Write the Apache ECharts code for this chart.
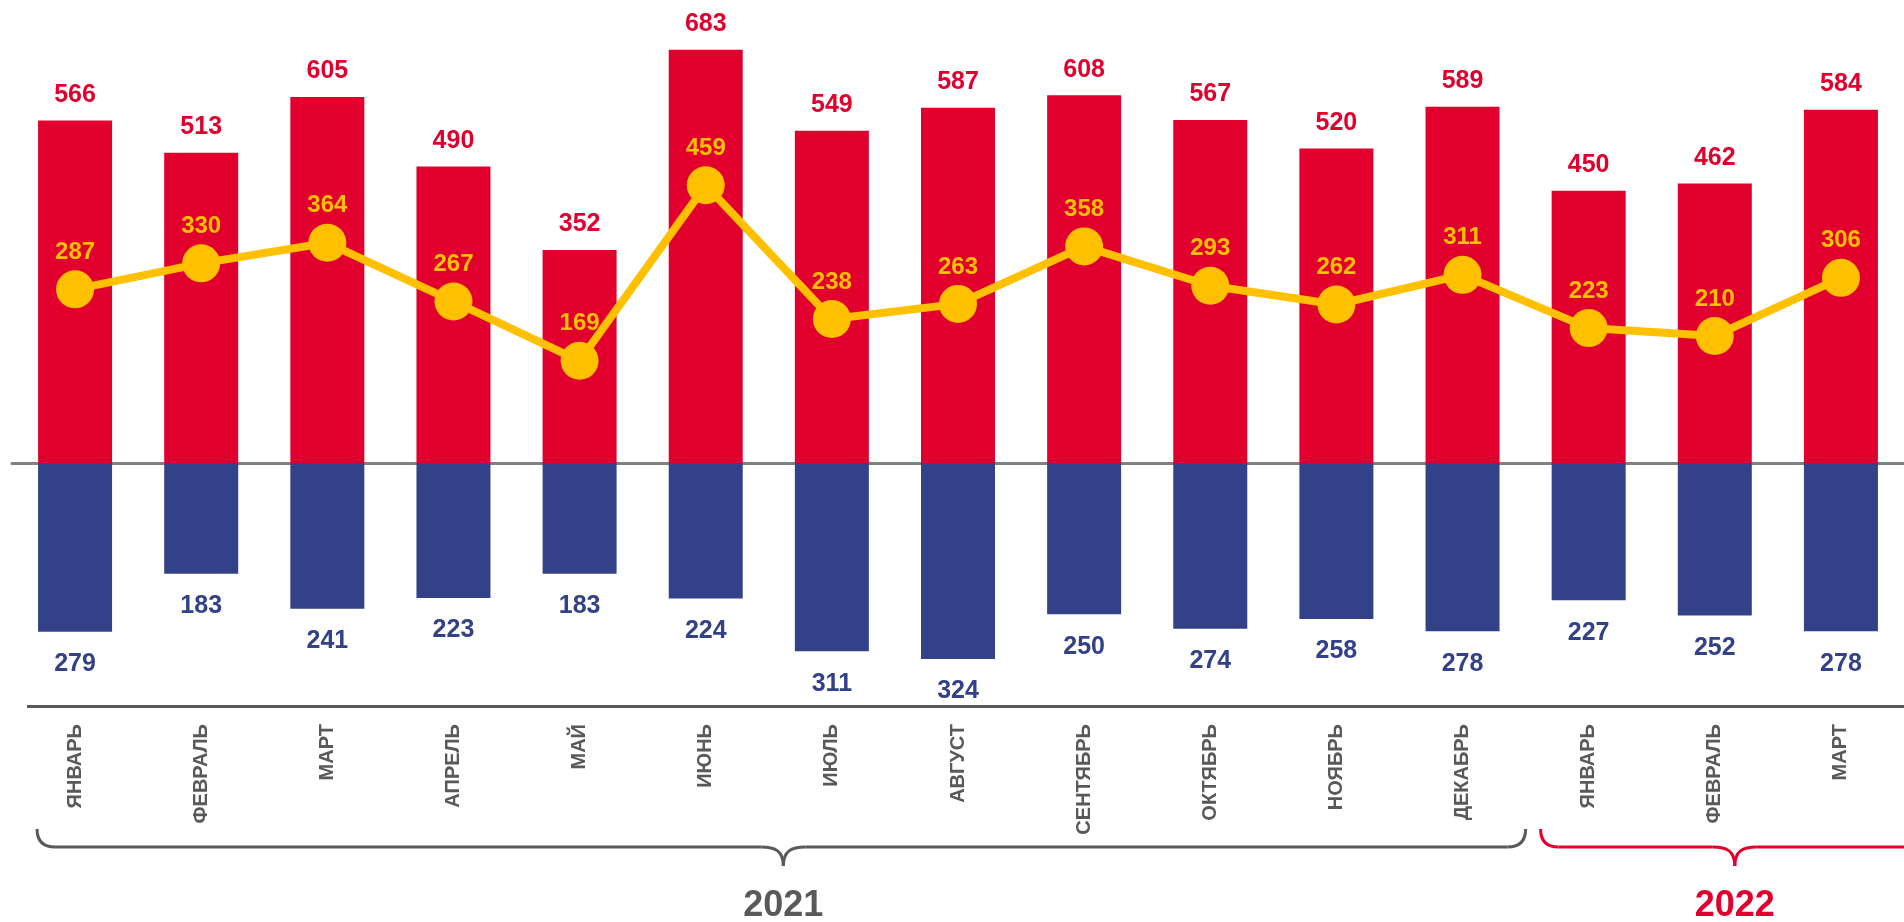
<!DOCTYPE html>
<html><head><meta charset="utf-8">
<script src="https://cdn.jsdelivr.net/npm/echarts@6/dist/echarts.min.js"></script>
<style>html,body{margin:0;padding:0;background:#fff}#c{width:1904px;height:922px}</style>
</head><body><div id="c"></div>
<script>
const categories = ['2021-01','2021-02','2021-03','2021-04','2021-05','2021-06','2021-07','2021-08','2021-09','2021-10','2021-11','2021-12','2022-01','2022-02','2022-03'];
const monthLabels = ['ЯНВАРЬ','ФЕВРАЛЬ','МАРТ','АПРЕЛЬ','МАЙ','ИЮНЬ','ИЮЛЬ','АВГУСТ','СЕНТЯБРЬ','ОКТЯБРЬ','НОЯБРЬ','ДЕКАБРЬ','ЯНВАРЬ','ФЕВРАЛЬ','МАРТ'];
const yearLabels = ['2021','2022'];
const redValues = [566,513,605,490,352,683,549,587,608,567,520,589,450,462,584];
const blueValues = [279,183,241,223,183,224,311,324,250,274,258,278,227,252,278];
const lineValues = [287,330,364,267,169,459,238,263,358,293,262,311,223,210,306];

const RED = '#E1002D', BLUE = '#334288', YELLOW = '#FFC000', GRAY = '#595959';
const FONT = '"Liberation Sans", Arial, sans-serif';

// detect a narrow font for the month labels
const cv = document.createElement('canvas').getContext('2d');
cv.font = 'bold 24px monospace';
const wMono = cv.measureText('ЯНВАРЬ').width;
cv.font = 'bold 24px "Liberation Sans Narrow", monospace';
const wNarrow = cv.measureText('ЯНВАРЬ').width;
const hasNarrow = Math.abs(wMono - wNarrow) > 0.5;
const catFont = hasNarrow ? '"Liberation Sans Narrow", "Liberation Sans", sans-serif' : FONT;
const catSize = hasNarrow ? 24 : 20;

const chart = echarts.init(document.getElementById('c'), null, {renderer: 'canvas'});
chart.setOption({
  animation: false,
  backgroundColor: '#fff',
  grid: {left: 12, right: -5, top: 39.5, bottom: 217, containLabel: false},
  xAxis: [
    {type: 'category', data: categories, axisTick: {show: false}, axisLabel: {show: false},
     axisLine: {onZero: true, lineStyle: {color: '#808080', width: 3}}},
    {type: 'category', data: categories, position: 'bottom', axisTick: {show: false},
     axisLine: {show: false},
     axisLabel: {rotate: 90, margin: 19, fontSize: catSize, fontWeight: 'bold', color: GRAY, fontFamily: catFont,
       formatter: (v, i) => monthLabels[i]}}
  ],
  yAxis: {type: 'value', min: -400, max: 700, show: false, splitLine: {show: false}},
  series: [
    {type: 'bar', data: redValues, barWidth: 74, itemStyle: {color: RED}, z: 2,
     label: {show: true, position: 'top', distance: 13, fontSize: 25, fontWeight: 'bold', color: RED, fontFamily: FONT}},
    {type: 'bar', data: blueValues.map(v => -v), barWidth: 74, barGap: '-100%', itemStyle: {color: BLUE}, z: 2,
     label: {show: true, position: 'bottom', distance: 20, fontSize: 25, fontWeight: 'bold', color: BLUE, fontFamily: FONT,
       formatter: p => Math.abs(p.value)}},
    {type: 'line', data: lineValues, z: 5, symbol: 'circle', symbolSize: 38,
     lineStyle: {color: YELLOW, width: 8}, itemStyle: {color: YELLOW},
     label: {show: true, position: 'top', distance: 6, fontSize: 24, fontWeight: 'bold', color: YELLOW, fontFamily: FONT}}
  ]
});

function px(i) { return chart.convertToPixel({xAxisIndex: 0}, i); }
const band = px(1) - px(0);
const yBottom = chart.convertToPixel({yAxisIndex: 0}, -400) + 1.5;
const T = 829, M = 847, TIP = 866, r = 18;
function brace(L, R, C, color) {
  const st = {stroke: color, lineWidth: 3, fill: null};
  return [
    {type: 'bezierCurve', shape: {x1: L, y1: T, cpx1: L, cpy1: M, x2: L + r, y2: M}, style: st},
    {type: 'line', shape: {x1: L + r, y1: M, x2: C - 22, y2: M}, style: st},
    {type: 'bezierCurve', shape: {x1: C - 22, y1: M, cpx1: C - 8, cpy1: M, cpx2: C, cpy2: M + 4, x2: C, y2: TIP}, style: st},
    {type: 'bezierCurve', shape: {x1: C, y1: TIP, cpx1: C, cpy1: M + 4, cpx2: C + 8, cpy2: M, x2: C + 22, y2: M}, style: st},
    {type: 'line', shape: {x1: C + 22, y1: M, x2: R - r, y2: M}, style: st},
    {type: 'bezierCurve', shape: {x1: R - r, y1: M, cpx1: R, cpy1: M, x2: R, y2: T}, style: st}
  ];
}
const gL = px(0) - 38, gR = px(11) + band / 2, gC = (gL + gR) / 2 + 2;
const rL = gR + 15, rC = px(13) + 20, rR = 2 * rC - rL;
chart.setOption({
  graphic: [
    {type: 'line', shape: {x1: 27, y1: yBottom, x2: 1904, y2: yBottom}, style: {stroke: GRAY, lineWidth: 3}},
    ...brace(gL, gR, gC, GRAY),
    ...brace(rL, rR, rC, RED),
    {type: 'text', x: gC, y: 906, style: {text: yearLabels[0], fill: GRAY, font: 'bold 36px ' + FONT, align: 'center', verticalAlign: 'middle'}},
    {type: 'text', x: rC, y: 906, style: {text: yearLabels[1], fill: RED, font: 'bold 36px ' + FONT, align: 'center', verticalAlign: 'middle'}}
  ]
});
</script></body></html>
